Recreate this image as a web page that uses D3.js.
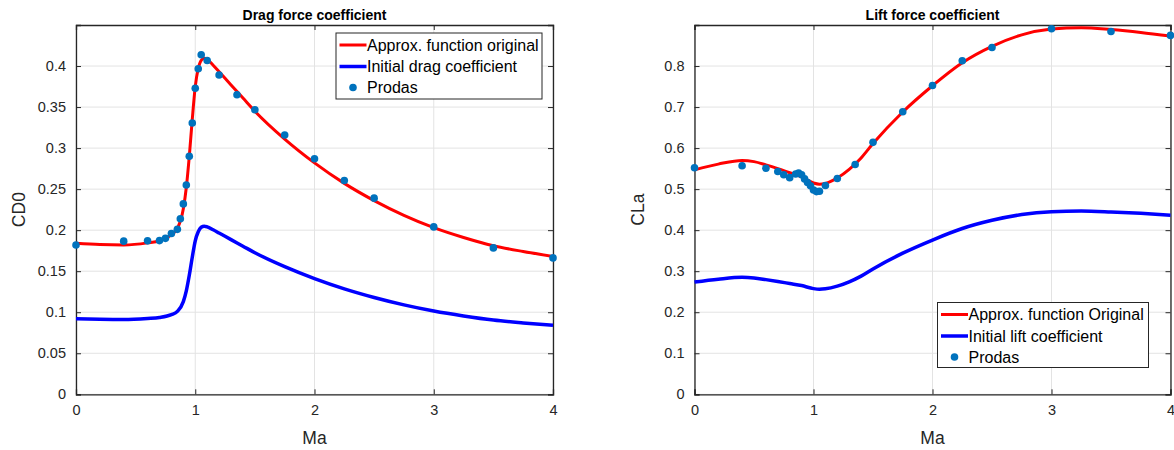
<!DOCTYPE html>
<html>
<head>
<meta charset="utf-8">
<script src="https://cdn.jsdelivr.net/npm/d3@7"></script>
<style>
  html, body { margin: 0; padding: 0; background: #fff; }
  svg { display: block; font-family: "Liberation Sans", Arial, Helvetica, sans-serif; }
</style>
</head>
<body>
<svg id="chart" width="1174" height="450"></svg>
<script>
// ---------------- DATA ----------------
// Smooth curve sample Mach numbers (drag)
const maCurveDrag = [0, 0.2, 0.4, 0.6, 0.7, 0.8, 0.85, 0.9, 0.925, 0.95, 0.975, 1.0, 1.025, 1.05, 1.075, 1.1, 1.15, 1.2, 1.3, 1.4, 1.5, 1.75, 2.0, 2.25, 2.5, 2.75, 3.0, 3.25, 3.5, 3.75, 4.0];
const cd0Approx = [0.184, 0.1825, 0.182, 0.1845, 0.187, 0.1945, 0.202, 0.226, 0.252, 0.29, 0.335, 0.375, 0.397, 0.407, 0.4095, 0.408, 0.401, 0.393, 0.377, 0.361, 0.345, 0.311, 0.282, 0.257, 0.236, 0.218, 0.203, 0.191, 0.181, 0.174, 0.168];
const cd0Initial = [0.092, 0.0913, 0.091, 0.0923, 0.0935, 0.097, 0.101, 0.113, 0.126, 0.145, 0.167, 0.187, 0.198, 0.2035, 0.2048, 0.204, 0.2005, 0.1965, 0.1885, 0.1805, 0.1725, 0.1555, 0.141, 0.1285, 0.118, 0.109, 0.1015, 0.0955, 0.0905, 0.087, 0.084];
// Prodas drag points
const maProdasDrag = [0, 0.4, 0.6, 0.7, 0.75, 0.8, 0.85, 0.875, 0.9, 0.925, 0.95, 0.975, 1.0, 1.025, 1.05, 1.1, 1.2, 1.35, 1.5, 1.75, 2.0, 2.25, 2.5, 3.0, 3.5, 4.0];
const cd0Prodas = [0.182, 0.1866, 0.187, 0.1873, 0.19, 0.196, 0.201, 0.214, 0.232, 0.255, 0.29, 0.3305, 0.373, 0.3967, 0.4138, 0.4068, 0.389, 0.365, 0.3467, 0.316, 0.287, 0.2605, 0.239, 0.204, 0.1784, 0.1662];

// Smooth curve sample Mach numbers (lift)
const maCurveLift = [0, 0.2, 0.4, 0.5, 0.6, 0.7, 0.8, 0.9, 1.0, 1.05, 1.1, 1.2, 1.3, 1.4, 1.5, 1.75, 2.0, 2.25, 2.5, 2.75, 3.0, 3.25, 3.5, 3.75, 4.0];
const claApprox = [0.547, 0.561, 0.57, 0.567, 0.559, 0.55, 0.54, 0.53, 0.515, 0.512, 0.514, 0.527, 0.548, 0.576, 0.611, 0.688, 0.752, 0.808, 0.848, 0.876, 0.89, 0.8935, 0.889, 0.882, 0.873];
const claInitial = [0.2735, 0.2805, 0.285, 0.2835, 0.2795, 0.275, 0.27, 0.265, 0.2575, 0.256, 0.257, 0.2635, 0.274, 0.288, 0.3055, 0.344, 0.376, 0.404, 0.424, 0.438, 0.445, 0.4468, 0.4445, 0.441, 0.4365];
// Prodas lift points
const maProdasLift = [0, 0.4, 0.6, 0.7, 0.75, 0.8, 0.85, 0.875, 0.9, 0.925, 0.95, 0.975, 1.0, 1.025, 1.05, 1.1, 1.2, 1.35, 1.5, 1.75, 2.0, 2.25, 2.5, 3.0, 3.5, 4.0];
const claProdas = [0.552, 0.557, 0.551, 0.543, 0.535, 0.528, 0.537, 0.539, 0.535, 0.525, 0.516, 0.508, 0.498, 0.494, 0.495, 0.509, 0.526, 0.56, 0.614, 0.6885, 0.7527, 0.813, 0.845, 0.891, 0.884, 0.8746];

// Tick labels
const xTicks = [0, 1, 2, 3, 4];
const yTicksDrag = [0, 0.05, 0.1, 0.15, 0.2, 0.25, 0.3, 0.35, 0.4];
const yTicksLift = [0, 0.1, 0.2, 0.3, 0.4, 0.5, 0.6, 0.7, 0.8];

const panels = [
  {
    title: "Drag force coefficient", ylabel: "CD0",
    left: 76, right: 553, top: 25, bottom: 394.3,
    yMax: 0.45, yTicks: yTicksDrag,
    maCurve: maCurveDrag, approx: cd0Approx, initial: cd0Initial,
    maProdas: maProdasDrag, prodas: cd0Prodas,
    legendNames: ["Approx. function original", "Initial drag coefficient", "Prodas"],
    legend: { x: 336, y: 33, w: 206, h: 66 }
  },
  {
    title: "Lift force coefficient", ylabel: "CLa",
    left: 694.5, right: 1170.5, top: 25, bottom: 394.3,
    yMax: 0.9, yTicks: yTicksLift,
    maCurve: maCurveLift, approx: claApprox, initial: claInitial,
    maProdas: maProdasLift, prodas: claProdas,
    legendNames: ["Approx. function Original", "Initial lift coefficient", "Prodas"],
    legend: { x: 937.5, y: 302.5, w: 211, h: 65 }
  }
];

const svg = d3.select("#chart");
const axisColor = "#262626";
const gridColor = "#e3e3e3";
const tickLen = 5;

panels.forEach(p => {
  const x = d3.scaleLinear().domain([0, 4]).range([p.left, p.right]);
  const y = d3.scaleLinear().domain([0, p.yMax]).range([p.bottom, p.top]);
  const g = svg.append("g");

  // grid
  g.append("g").selectAll("line").data(xTicks).join("line")
    .attr("x1", d => x(d)).attr("x2", d => x(d))
    .attr("y1", p.top).attr("y2", p.bottom)
    .attr("stroke", gridColor).attr("stroke-width", 1);
  g.append("g").selectAll("line").data(p.yTicks).join("line")
    .attr("x1", p.left).attr("x2", p.right)
    .attr("y1", d => y(d)).attr("y2", d => y(d))
    .attr("stroke", gridColor).attr("stroke-width", 1);

  // axes (ticks inward)
  const fmt = d => d3.format("")(d);
  const xb = g.append("g").attr("transform", `translate(0,${p.bottom})`)
    .call(d3.axisBottom(x).tickValues(xTicks).tickSize(-tickLen).tickPadding(10).tickFormat(fmt));
  const xt = g.append("g").attr("transform", `translate(0,${p.top})`)
    .call(d3.axisTop(x).tickValues(xTicks).tickSize(-tickLen).tickFormat(""));
  const yl = g.append("g").attr("transform", `translate(${p.left},0)`)
    .call(d3.axisLeft(y).tickValues(p.yTicks).tickSize(-tickLen).tickPadding(10).tickFormat(fmt));
  const yr = g.append("g").attr("transform", `translate(${p.right},0)`)
    .call(d3.axisRight(y).tickValues(p.yTicks).tickSize(-tickLen).tickFormat(""));
  [xb, xt, yl, yr].forEach(a => {
    a.select(".domain").attr("stroke", axisColor).attr("stroke-width", 1.3);
    a.selectAll(".tick line").attr("stroke", axisColor).attr("stroke-width", 1);
    a.selectAll(".tick text").attr("fill", axisColor)
      .style("font-size", "14.5px").style("font-family", '"Liberation Sans", Arial, sans-serif');
  });

  const line = d3.line().curve(d3.curveMonotoneX).x(d => x(d[0])).y(d => y(d[1]));

  g.append("path").datum(p.maCurve.map((m, i) => [m, p.approx[i]]))
    .attr("d", line).attr("fill", "none").attr("stroke", "#ff0000").attr("stroke-width", 3);
  g.append("path").datum(p.maCurve.map((m, i) => [m, p.initial[i]]))
    .attr("d", line).attr("fill", "none").attr("stroke", "#0000ff").attr("stroke-width", 3.5);

  g.append("g").selectAll("circle").data(p.maProdas.map((m, i) => [m, p.prodas[i]])).join("circle")
    .attr("cx", d => x(d[0])).attr("cy", d => y(d[1])).attr("r", 3.8)
    .attr("fill", "#0072bd");

  // title
  g.append("text").attr("x", (p.left + p.right) / 2).attr("y", 20)
    .attr("text-anchor", "middle").attr("font-weight", "bold")
    .style("font-size", "14px").attr("fill", "#000").text(p.title);
  // x label
  g.append("text").attr("x", (p.left + p.right) / 2).attr("y", 444)
    .attr("text-anchor", "middle").style("font-size", "17.5px").attr("fill", axisColor).text("Ma");
  // y label
  g.append("text").attr("transform", `translate(${p.left - 51},${(p.top + p.bottom) / 2}) rotate(-90)`)
    .attr("text-anchor", "middle").style("font-size", "17.5px").attr("fill", axisColor).text(p.ylabel);

  // legend
  const L = p.legend;
  const lg = g.append("g");
  lg.append("rect").attr("x", L.x).attr("y", L.y).attr("width", L.w).attr("height", L.h)
    .attr("fill", "#fff").attr("stroke", axisColor).attr("stroke-width", 1);
  const rowY = [L.y + 12, L.y + 33.5, L.y + 54.5];
  const styles = [{ c: "#ff0000", w: 3 }, { c: "#0000ff", w: 3.5 }];
  styles.forEach((s, i) => {
    lg.append("line").attr("x1", L.x + 3.5).attr("x2", L.x + 30.5)
      .attr("y1", rowY[i]).attr("y2", rowY[i]).attr("stroke", s.c).attr("stroke-width", s.w);
  });
  lg.append("circle").attr("cx", L.x + 17).attr("cy", rowY[2]).attr("r", 3.8).attr("fill", "#0072bd");
  p.legendNames.forEach((n, i) => {
    lg.append("text").attr("x", L.x + 31).attr("y", rowY[i]).attr("dy", "0.35em")
      .style("font-size", "16px").attr("fill", "#000").text(n);
  });
});
</script>
</body>
</html>
